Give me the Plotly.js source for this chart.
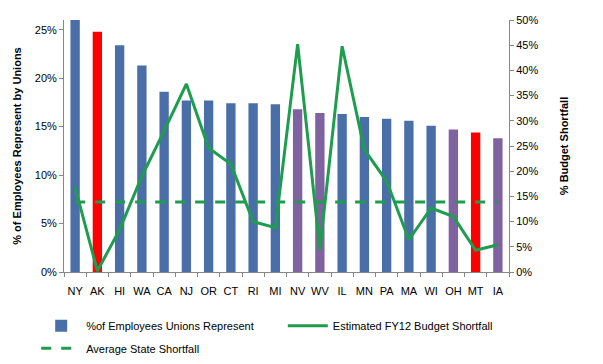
<!DOCTYPE html>
<html>
<head>
<meta charset="utf-8">
<script src="https://cdn.plot.ly/plotly-3.0.1.min.js"></script>
<style>html,body{margin:0;padding:0;background:#fff;}#chart{width:603px;height:364px;}</style>
</head>
<body>
<div id="chart"></div>
<script>
const states = ["NY","AK","HI","WA","CA","NJ","OR","CT","RI","MI","NV","WV","IL","MN","PA","MA","WI","OH","MT","IA"];
const unionShare = [26.0,24.8,23.4,21.3,18.6,17.7,17.7,17.4,17.4,17.3,16.8,16.4,16.3,16.0,15.8,15.6,15.1,14.7,14.4,13.8];
const budgetShortfall = [16.8,0.2,8.4,19.0,28.0,37.3,24.6,21.4,10.0,8.8,45.2,4.5,44.8,24.3,18.0,6.4,12.7,11.0,4.3,5.4];
const averageShortfall = [13.9,13.9,13.9,13.9,13.9,13.9,13.9,13.9,13.9,13.9,13.9,13.9,13.9,13.9,13.9,13.9,13.9,13.9,13.9,13.9];
const barGroup = ["b","r","b","b","b","b","b","b","b","b","p","p","b","b","b","b","b","p","r","p"];

const colorMap = {b:"#4a6fa8", r:"#ff0000", p:"#7f62a0"};
const green = "#1f9d4f";

const traces = [
  {type:"bar", x:states, y:unionShare, name:"%of Employees Unions Represent",
   marker:{color:barGroup.map(g=>colorMap[g])}, width:0.42, yaxis:"y", legend:"legend"},
  {type:"scatter", mode:"lines", x:states, y:budgetShortfall, name:"Estimated FY12 Budget Shortfall",
   line:{color:green, width:3}, yaxis:"y2", legend:"legend2"},
  {type:"scatter", mode:"lines", x:states, y:averageShortfall, name:"Average State Shortfall",
   line:{color:green, width:3, dash:"10px,10px"}, yaxis:"y2", legend:"legend3"}
];

const font = {family:"Liberation Sans, Arial, sans-serif", size:11, color:"#000"};
const legBase = {orientation:"h", xref:"container", yref:"container", xanchor:"left", yanchor:"top",
                 font:{family:font.family, size:11}, itemwidth:40, bgcolor:"rgba(0,0,0,0)"};

const layout = {
  width:603, height:364,
  margin:{l:64, r:94, t:20, b:92, autoexpand:false},
  paper_bgcolor:"#fff", plot_bgcolor:"#fff",
  font:font,
  showlegend:true,
  legend:Object.assign({}, legBase, {x:0.06, y:0.145}),
  legend2:Object.assign({}, legBase, {x:0.469, y:0.145}),
  legend3:Object.assign({}, legBase, {x:0.06, y:0.083}),
  bargap:0.5,
  xaxis:{type:"category", tickson:"boundaries", ticks:"outside", ticklen:4, tickcolor:"#888",
         tickangle:0, ticklabelstandoff:9,
         showline:true, linecolor:"#888", linewidth:1, showgrid:false,
         tickfont:{family:font.family, size:11}},
  yaxis:{range:[0,26], tickvals:[0,5,10,15,20,25], ticktext:["0%","5%","10%","15%","20%","25%"],
         ticks:"outside", ticklen:4, tickcolor:"#888", showline:true, linecolor:"#888", linewidth:1,
         showgrid:false, zeroline:false,
         title:{text:"<b>% of Employees Represent by Unions</b>", font:{family:font.family, size:11}, standoff:10}},
  yaxis2:{overlaying:"y", side:"right", range:[0,50], dtick:5, ticksuffix:"%",
          ticks:"outside", ticklen:4, tickcolor:"#888", showline:true, linecolor:"#888", linewidth:1,
          showgrid:false, zeroline:false,
          title:{text:"<b>% Budget Shortfall</b>", font:{family:font.family, size:11}, standoff:22}}
};

Plotly.newPlot("chart", traces, layout, {displayModeBar:false, staticPlot:true});
</script>
</body>
</html>
